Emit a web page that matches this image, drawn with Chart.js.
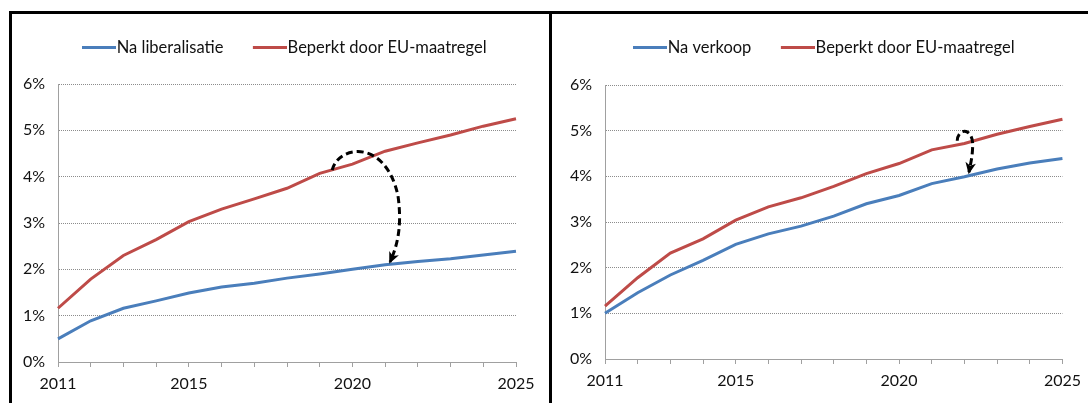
<!DOCTYPE html>
<html>
<head>
<meta charset="utf-8">
<script src="https://cdn.jsdelivr.net/npm/chart.js@4/dist/chart.umd.min.js"></script>
<style>
  html, body { margin: 0; padding: 0; background: #fff; }
  body { width: 1088px; height: 403px; position: relative; overflow: hidden; }
  .frame { position: absolute; left: 9px; top: 11px; width: 1200px; height: 400px;
           border-top: 3px solid #000; border-left: 3px solid #000; box-sizing: border-box; }
  .divider { position: absolute; left: 549px; top: 11px; width: 3px; height: 400px; background: #000; }
  canvas { position: absolute; top: 9px; }
  #left { left: 12px; }
  #right { left: 552px; }
</style>
</head>
<body>
<div class="frame"></div>
<div class="divider"></div>
<canvas id="left" width="537" height="394"></canvas>
<canvas id="right" width="536" height="394"></canvas>
<script>
const years = ['2011','2012','2013','2014','2015','2016','2017','2018','2019','2020','2021','2022','2023','2024','2025'];
const shownYears = ['2011','2015','2020','2025'];
const yTicks = [0, 1, 2, 3, 4, 5, 6];

const leftBlue = [0.50, 0.89, 1.16, 1.32, 1.49, 1.62, 1.70, 1.81, 1.90, 2.00, 2.10, 2.17, 2.23, 2.31, 2.39];
const leftRed  = [1.16, 1.79, 2.30, 2.64, 3.03, 3.30, 3.52, 3.75, 4.07, 4.27, 4.55, 4.73, 4.90, 5.09, 5.25];
const rightBlue = [1.00, 1.45, 1.84, 2.16, 2.51, 2.74, 2.91, 3.13, 3.40, 3.58, 3.84, 3.99, 4.16, 4.29, 4.39];
const rightRed  = [1.16, 1.78, 2.32, 2.63, 3.04, 3.33, 3.53, 3.78, 4.06, 4.28, 4.58, 4.72, 4.92, 5.09, 5.25];

// arrow paths in data space: [year, percent] -> start, ctrl, ctrl, mid, ctrl, ctrl, tip
const leftArrow = [[2019.38, 4.14], [2019.56, 4.68], [2021.0, 4.83], [2021.39, 3.60], [2021.52, 2.96], [2021.39, 2.53], [2021.15, 2.16]];
const rightArrow = [[2021.78, 4.78], [2021.80, 5.08], [2022.30, 5.08], [2022.25, 4.62], [2022.24, 4.40], [2022.18, 4.25], [2022.14, 4.09]];

const BLUE = '#4a7ebb';
const RED = '#be4b48';
const FONT = 'Lato, "Liberation Sans", sans-serif';

// legend swatch: a 34px line that sits right against the label text
function swatch(color) {
    const c = document.createElement('canvas');
    c.width = 49; c.height = 3;
    const g = c.getContext('2d');
    g.fillStyle = color;
    g.fillRect(15, 0, 34, 3);
    return c;
}

const arrowPlugin = {
    id: 'arrow',
    afterDatasetsDraw(chart, args, opts) {
        if (!opts.path) return;
        const { ctx, scales: { x, y } } = chart;
        const p = opts.path.map(([yr, v]) => [x.getPixelForValue(yr - 2011), y.getPixelForValue(v)]);
        ctx.save();
        ctx.strokeStyle = '#000';
        ctx.lineWidth = 3;
        ctx.setLineDash([7, 4]);
        ctx.beginPath();
        ctx.moveTo(p[0][0], p[0][1]);
        ctx.bezierCurveTo(p[1][0], p[1][1], p[2][0], p[2][1], p[3][0], p[3][1]);
        ctx.bezierCurveTo(p[4][0], p[4][1], p[5][0], p[5][1], p[6][0], p[6][1]);
        ctx.stroke();
        // arrow head
        const [tx, ty] = p[6];
        const a = Math.atan2(ty - p[5][1], tx - p[5][0]);
        const len = 11, w = 0.5;
        ctx.setLineDash([]);
        ctx.fillStyle = '#000';
        ctx.beginPath();
        ctx.moveTo(tx + 2 * Math.cos(a), ty + 2 * Math.sin(a));
        ctx.lineTo(tx - len * Math.cos(a - w), ty - len * Math.sin(a - w));
        ctx.lineTo(tx - len * 0.6 * Math.cos(a), ty - len * 0.6 * Math.sin(a));
        ctx.lineTo(tx - len * Math.cos(a + w), ty - len * Math.sin(a + w));
        ctx.closePath();
        ctx.fill();
        ctx.restore();
    }
};

function makeChart(id, blueName, blue, red, arrow, box) {
    const legendFix = {
        id: 'legendFix',
        beforeInit(chart) {
            const fit = chart.legend.fit;
            chart.legend.fit = function () {
                fit.bind(chart.legend)();
                this.height = box.top;
            };
        }
    };
    return new Chart(document.getElementById(id), {
        type: 'line',
        data: {
            labels: years,
            datasets: [
                { label: blueName, data: blue, borderColor: BLUE, backgroundColor: BLUE },
                { label: 'Beperkt door EU-maatregel', data: red, borderColor: RED, backgroundColor: RED }
            ]
        },
        options: {
            responsive: false,
            animation: false,
            devicePixelRatio: 1,
            layout: { padding: { top: 8, right: 0, bottom: 0, left: 0 } },
            elements: {
                line: { borderWidth: 3, tension: 0 },
                point: { radius: 0 }
            },
            scales: {
                x: {
                    offset: false,
                    grid: { drawOnChartArea: false, drawTicks: true, tickLength: 5, color: '#a0a0a0' },
                    border: { color: '#a0a0a0', width: 1 },
                    ticks: {
                        autoSkip: false, maxRotation: 0, padding: 7,
                        color: '#111', font: { family: FONT, size: 16 },
                        callback: function (v) {
                            const lab = this.getLabelForValue(v);
                            return shownYears.includes(lab) ? lab : '';
                        }
                    },
                    afterFit: s => { s.height = box.bottom; }
                },
                y: {
                    min: yTicks[0], max: yTicks[yTicks.length - 1],
                    grid: { drawTicks: false, color: '#8c8c8c', lineWidth: 1 },
                    border: { color: '#a0a0a0', width: 1, dash: [1, 1] },
                    ticks: {
                        stepSize: 1, padding: 13,
                        color: '#111', font: { family: FONT, size: 16 },
                        callback: v => v + '%'
                    },
                    afterFit: s => { s.width = box.left; }
                },
                // empty strip on the right so the legend stays centred on the whole panel
                pad: {
                    type: 'linear', position: 'right',
                    grid: { display: false }, border: { display: false }, ticks: { display: false },
                    afterFit: s => { s.width = box.right; }
                }
            },
            plugins: {
                legend: {
                    display: true,
                    labels: {
                        usePointStyle: true, pointStyleWidth: 34, boxHeight: 3, padding: 22,
                        color: '#111', font: { family: FONT, size: 16.5 },
                        generateLabels: chart => Chart.defaults.plugins.legend.labels.generateLabels(chart)
                            .map(l => Object.assign(l, { lineWidth: 0, pointStyle: swatch(l.strokeStyle) }))
                    }
                },
                tooltip: { enabled: false },
                arrow: { path: arrow }
            }
        },
        plugins: [arrowPlugin, legendFix]
    });
}

makeChart('left', 'Na liberalisatie', leftBlue, leftRed, leftArrow, { left: 46, right: 33, top: 67, bottom: 41 });
makeChart('right', 'Na verkoop', rightBlue, rightRed, rightArrow, { left: 53, right: 23, top: 68, bottom: 44 });
</script>
</body>
</html>
